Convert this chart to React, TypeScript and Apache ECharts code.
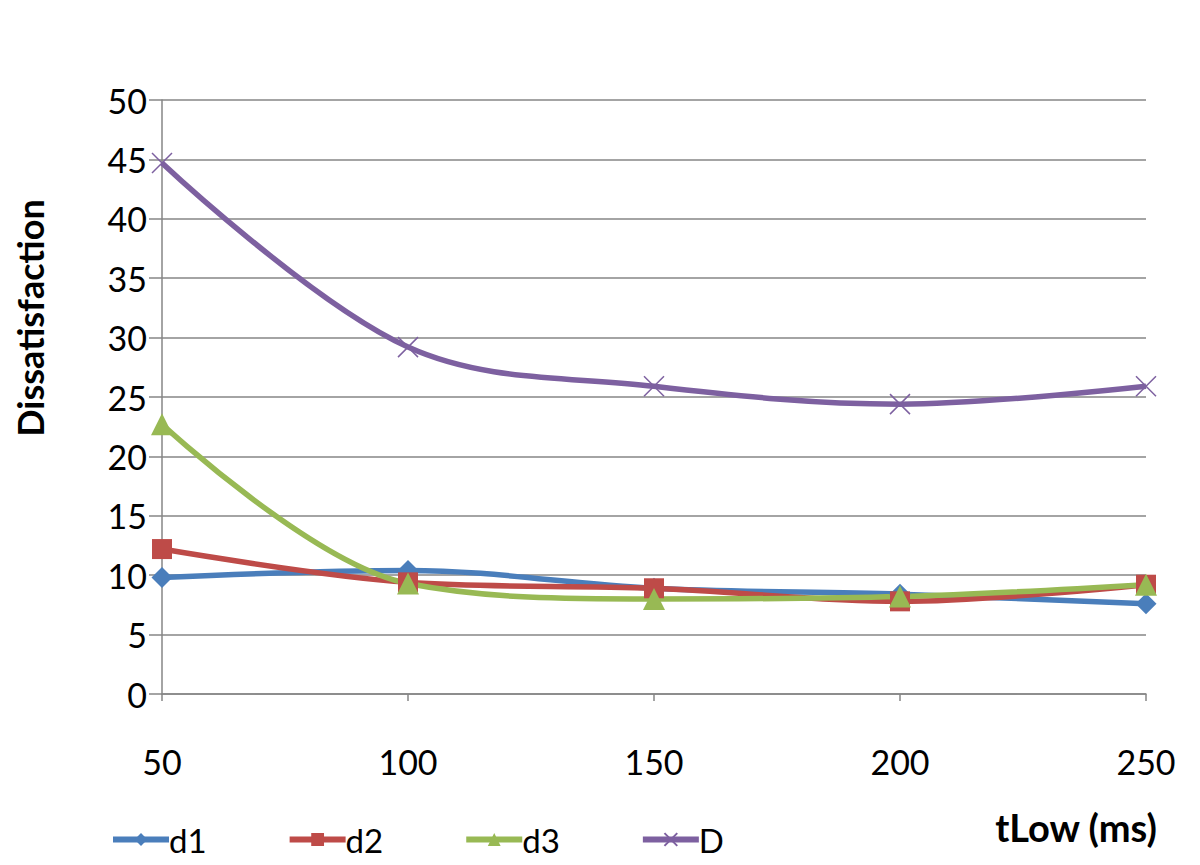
import React, { useEffect, useRef } from "react";
import * as echarts from "echarts";

const xValues = [50, 100, 150, 200, 250];
const d1 = [9.8, 10.4, 8.9, 8.4, 7.6];
const d2 = [12.2, 9.4, 8.9, 7.8, 9.2];
const d3 = [22.7, 9.3, 8.0, 8.2, 9.2];
const D = [44.7, 29.2, 25.9, 24.4, 25.9];
const seriesNames = ["d1", "d2", "d3", "D"];
const yTitle = "Dissatisfaction";
const xTitle = "tLow (ms)";

const FONT = "Lato, 'Open Sans', sans-serif";

export default function App() {
  const ref = useRef<HTMLDivElement>(null);
  useEffect(() => {
    const chart = echarts.init(ref.current!, null, { renderer: "svg" });
    const pairs = (arr: number[]) => xValues.map((x, i) => [x, arr[i]]);
    const mk = (name: string, data: number[], color: string, symbol: string, size: number) => ({
      name,
      type: "line",
      smooth: 0.35,
      data: pairs(data),
      symbol,
      symbolSize: size,
      lineStyle: { width: 5.5, color },
      itemStyle: { color },
    });
    chart.setOption({
      animation: false,
      grid: { left: 162, right: 54, top: 100, bottom: 171, containLabel: false },
      xAxis: {
        type: "value",
        min: 50,
        max: 250,
        interval: 50,
        axisLine: { show: true, lineStyle: { color: "#868686", width: 1.5 } },
        axisTick: { show: true, length: 7, lineStyle: { color: "#868686", width: 1.5 } },
        splitLine: { show: false },
        axisLabel: { fontSize: 34, color: "#000", fontFamily: FONT, margin: 50 },
      },
      yAxis: {
        type: "value",
        min: 0,
        max: 50,
        interval: 5,
        axisLine: { show: true, lineStyle: { color: "#868686", width: 1.5 } },
        axisTick: { show: true, length: 13, lineStyle: { color: "#868686", width: 1.5 } },
        splitLine: { show: true, lineStyle: { color: "#868686", width: 1.5 } },
        axisLabel: { fontSize: 34, color: "#000", fontFamily: FONT, margin: 15 },
      },
      legend: {
        left: 105,
        top: 818,
        itemWidth: 56,
        itemHeight: 16,
        itemGap: 80,
        lineStyle: { width: 6 },
        textStyle: { fontSize: 33, color: "#000", fontFamily: FONT, padding: [0, 0, 0, -5] },
        data: seriesNames,
      },
      graphic: [
        {
          type: "text",
          x: 30,
          y: 318,
          rotation: Math.PI / 2,
          style: {
            text: yTitle,
            font: `bold 36px ${FONT}`,
            fill: "#000",
            align: "center",
            verticalAlign: "middle",
          },
        },
        {
          type: "text",
          x: 1076,
          y: 827,
          style: {
            text: xTitle,
            font: `bold 38px ${FONT}`,
            fill: "#000",
            align: "center",
            verticalAlign: "middle",
          },
        },
      ],
      series: [
        mk(seriesNames[0], d1, "#4a7ebb", "diamond", 21),
        mk(seriesNames[1], d2, "#be4b48", "rect", 20),
        mk(seriesNames[2], d3, "#98b954", "triangle", 22),
        {
          ...mk(seriesNames[3], D, "#7d60a0", "path://M0,0L10,10M10,0L0,10", 20),
          itemStyle: { color: "none", borderColor: "#7d60a0", borderWidth: 1.5 },
        },
      ],
    });
    return () => chart.dispose();
  }, []);
  return <div ref={ref} style={{ width: 1200, height: 865, position: "absolute", left: 0, top: 0 }} />;
}
